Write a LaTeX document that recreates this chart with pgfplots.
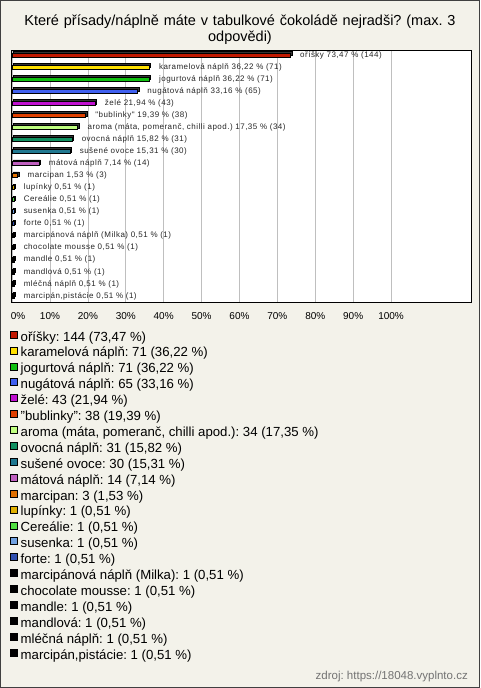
\documentclass[border=0pt]{standalone}
\usepackage{pgfplots}
\pgfplotsset{compat=1.18}
\usepackage{fontspec}
\setmainfont{Liberation Sans}
\newfontfamily\lblfont[LetterSpace=6]{Liberation Sans}
\definecolor{bg}{HTML}{F3F2EA}
\definecolor{c1}{HTML}{C01800}
\definecolor{c2}{HTML}{FFE000}
\definecolor{c3}{HTML}{10C010}
\definecolor{c4}{HTML}{4060F0}
\definecolor{c5}{HTML}{C010D0}
\definecolor{c6}{HTML}{E04000}
\definecolor{c7}{HTML}{C0FF80}
\definecolor{c8}{HTML}{109060}
\definecolor{c9}{HTML}{207890}
\definecolor{c10}{HTML}{C060C0}
\definecolor{c11}{HTML}{E07000}
\definecolor{c12}{HTML}{E0B000}
\definecolor{c13}{HTML}{50E040}
\definecolor{c14}{HTML}{70A0E0}
\definecolor{c15}{HTML}{3050B0}
\definecolor{c16}{HTML}{000000}
\begin{document}
\frenchspacing
\begin{tikzpicture}
\fill[bg] (0pt,0pt) rectangle (480pt,-688pt);
\draw[line width=1pt, draw=black!75] (0.5pt,-0.5pt) rectangle (479.5pt,-687.5pt);
\node[font=\fontsize{14.5}{15.5}\selectfont, align=center, text width=476pt] at (240pt,-29.5pt) {Které přísady/náplně máte v tabulkové čokoládě nejradši? (max. 3\\odpovědi)};
\begin{axis}[at={(11pt,-50pt)}, anchor=north west, scale only axis,
  width=460pt, height=252pt,
  xbar, bar width=4.2pt, bar shift=0pt,
  xmin=-0.29, xmax=121.1, ymin=-0.415, ymax=20.5, y dir=reverse,
  axis background/.style={fill=white},
  axis line style={line width=0.8pt, black},
  xtick={0,10,...,100},
  xticklabels={\hspace{12pt}0\%,10\%,20\%,30\%,40\%,50\%,60\%,70\%,80\%,90\%,100\%},
  ytick=\empty,
  xmajorgrids, grid style={draw=black!25, line width=0.7pt},
  major tick length=0pt,
  xticklabel style={font=\fontsize{10}{10}\selectfont, yshift=-7pt},
  every axis plot/.append style={draw=black, line width=0.8pt},
  nodes near coords, point meta=explicit symbolic,
  nodes near coords style={font=\lblfont\fontsize{8}{8}\selectfont, anchor=west, xshift=6pt, text=black!85},
  legend cell align=left,
  legend image code/.code={\draw[#1,/tikz/.cd, draw=black, line width=0.6pt] (0pt,-0.5pt) rectangle (7pt,6.5pt); \path (9.5pt,0pt);},
  legend style={at={(0,0)}, anchor=north west, xshift=-1pt, yshift=-28.5pt,
    draw=none, fill=none, inner sep=0pt, outer sep=0pt,
    font=\fontsize{13.2}{13.2}\selectfont, row sep=1.9pt,
    nodes={inner sep=0.5pt, text height=10pt, text depth=3pt}},
]
% 3D depth of the bars
\addplot[forget plot, fill=black!80, draw=black, xshift=1.4pt, yshift=1.4pt, nodes near coords={}] coordinates {
(73.47,0) [a] (36.22,1) [a] (36.22,2) [a] (33.16,3) [a] (21.94,4) [a]
(19.39,5) [a] (17.35,6) [a] (15.82,7) [a] (15.31,8) [a] (7.14,9) [a]
(1.53,10) [a] (0.51,11) [a] (0.51,12) [a] (0.51,13) [a] (0.51,14) [a]
(0.51,15) [a] (0.51,16) [a] (0.51,17) [a] (0.51,18) [a] (0.51,19) [a] (0.51,20) [a]};
\addplot[fill=c1] coordinates {(73.47,0) [oříšky 73,47 \% (144)]};
\addlegendentry{oříšky: 144 (73,47 \%)}
\addplot[fill=c2] coordinates {(36.22,1) [karamelová náplň 36,22 \% (71)]};
\addlegendentry{karamelová náplň: 71 (36,22 \%)}
\addplot[fill=c3] coordinates {(36.22,2) [jogurtová náplň 36,22 \% (71)]};
\addlegendentry{jogurtová náplň: 71 (36,22 \%)}
\addplot[fill=c4] coordinates {(33.16,3) [nugátová náplň 33,16 \% (65)]};
\addlegendentry{nugátová náplň: 65 (33,16 \%)}
\addplot[fill=c5] coordinates {(21.94,4) [želé 21,94 \% (43)]};
\addlegendentry{želé: 43 (21,94 \%)}
\addplot[fill=c6] coordinates {(19.39,5) ["bublinky" 19,39 \% (38)]};
\addlegendentry{"bublinky": 38 (19,39 \%)}
\addplot[fill=c7] coordinates {(17.35,6) [aroma (máta, pomeranč, chilli apod.) 17,35 \% (34)]};
\addlegendentry{aroma (máta, pomeranč, chilli apod.): 34 (17,35 \%)}
\addplot[fill=c8] coordinates {(15.82,7) [ovocná náplň 15,82 \% (31)]};
\addlegendentry{ovocná náplň: 31 (15,82 \%)}
\addplot[fill=c9] coordinates {(15.31,8) [sušené ovoce 15,31 \% (30)]};
\addlegendentry{sušené ovoce: 30 (15,31 \%)}
\addplot[fill=c10] coordinates {(7.14,9) [mátová náplň 7,14 \% (14)]};
\addlegendentry{mátová náplň: 14 (7,14 \%)}
\addplot[fill=c11] coordinates {(1.53,10) [marcipan 1,53 \% (3)]};
\addlegendentry{marcipan: 3 (1,53 \%)}
\addplot[fill=c12] coordinates {(0.51,11) [lupínky 0,51 \% (1)]};
\addlegendentry{lupínky: 1 (0,51 \%)}
\addplot[fill=c13] coordinates {(0.51,12) [Cereálie 0,51 \% (1)]};
\addlegendentry{Cereálie: 1 (0,51 \%)}
\addplot[fill=c14] coordinates {(0.51,13) [susenka 0,51 \% (1)]};
\addlegendentry{susenka: 1 (0,51 \%)}
\addplot[fill=c15] coordinates {(0.51,14) [forte 0,51 \% (1)]};
\addlegendentry{forte: 1 (0,51 \%)}
\addplot[fill=c16] coordinates {(0.51,15) [marcipánová náplň (Milka) 0,51 \% (1)]};
\addlegendentry{marcipánová náplň (Milka): 1 (0,51 \%)}
\addplot[fill=c16] coordinates {(0.51,16) [chocolate mousse 0,51 \% (1)]};
\addlegendentry{chocolate mousse: 1 (0,51 \%)}
\addplot[fill=c16] coordinates {(0.51,17) [mandle 0,51 \% (1)]};
\addlegendentry{mandle: 1 (0,51 \%)}
\addplot[fill=c16] coordinates {(0.51,18) [mandlová 0,51 \% (1)]};
\addlegendentry{mandlová: 1 (0,51 \%)}
\addplot[fill=c16] coordinates {(0.51,19) [mléčná náplň 0,51 \% (1)]};
\addlegendentry{mléčná náplň: 1 (0,51 \%)}
\addplot[fill=c16] coordinates {(0.51,20) [marcipán,pistácie 0,51 \% (1)]};
\addlegendentry{marcipán,pistácie: 1 (0,51 \%)}
\end{axis}
\node[anchor=east, font=\fontsize{11.5}{11.5}\selectfont, text=black!55, inner sep=0pt] at (468pt,-677pt) {zdroj: https://18048.vyplnto.cz};
\pgfresetboundingbox
\useasboundingbox (0pt,0pt) rectangle (480pt,-688pt);
\end{tikzpicture}
\end{document}
